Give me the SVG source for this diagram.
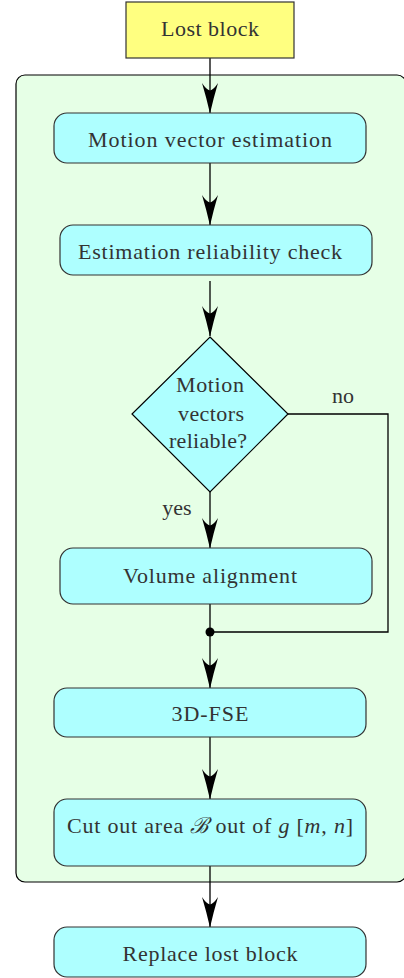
<svg xmlns="http://www.w3.org/2000/svg" width="404" height="978" viewBox="0 0 404 978">
<style>
text{font-family:"Liberation Serif","DejaVu Serif",serif;font-size:22px;fill:#333;text-anchor:middle}
.box{fill:#aeffff;stroke:#333;stroke-width:1.2}
.conn{fill:none;stroke:#000;stroke-width:1.3}
.it{font-style:italic}
</style>
<defs>
<marker id="ah" markerUnits="userSpaceOnUse" markerWidth="31" markerHeight="17" refX="30" refY="8.5" orient="auto" viewBox="0 0 31 17">
<path d="M30.5,8.5 Q15,5 0,0.5 Q7,5 7.5,8.5 Q7,12 0,16.5 Q15,12 30.5,8.5 Z" fill="#000"/>
</marker>
</defs>
<rect width="404" height="978" fill="#fff"/>
<g id="container"><rect x="16" y="75" width="390" height="807" rx="9" fill="#e6ffe6" stroke="#000" stroke-width="1.2"/></g>
<g id="connectors">
<line class="conn" x1="210" y1="58" x2="210" y2="113" marker-end="url(#ah)"/>
<line class="conn" x1="210" y1="163" x2="210" y2="225" marker-end="url(#ah)"/>
<line class="conn" x1="210" y1="281" x2="210" y2="336" marker-end="url(#ah)"/>
<line class="conn" x1="210" y1="492" x2="210" y2="548" marker-end="url(#ah)"/>
<polyline class="conn" points="288,414 388,414 388,632 210,632"/>
<line class="conn" x1="210" y1="604" x2="210" y2="632"/>
<circle cx="210" cy="632" r="4.5" fill="#000"/>
<line class="conn" x1="210" y1="632" x2="210" y2="688" marker-end="url(#ah)"/>
<line class="conn" x1="210" y1="737" x2="210" y2="799" marker-end="url(#ah)"/>
<line class="conn" x1="210" y1="866" x2="210" y2="927" marker-end="url(#ah)"/>
<text x="343" y="403">no</text>
<text x="177" y="515">yes</text>
</g>
<g id="lost"><rect x="126" y="2" width="168" height="56" fill="#ffff80" stroke="#333" stroke-width="1.2"/><text x="210" y="36" textLength="98">Lost block</text></g>
<g id="mve"><rect class="box" x="54" y="113" width="312" height="50" rx="13"/><text x="210" y="147" textLength="244">Motion vector estimation</text></g>
<g id="erc"><rect class="box" x="60" y="225" width="312" height="50" rx="13"/><text x="210" y="259" textLength="264">Estimation reliability check</text></g>
<g id="decision"><polygon points="210,337 288,414 210,492 132,414" fill="#aeffff" stroke="#000" stroke-width="1.2"/>
<text x="210" y="392" textLength="68">Motion</text><text x="211" y="421" textLength="66">vectors</text><text x="208" y="448" textLength="78">reliable?</text></g>
<g id="va"><rect class="box" x="60" y="548" width="312" height="56" rx="13"/><text x="210" y="583" textLength="174">Volume alignment</text></g>
<g id="fse"><rect class="box" x="54" y="688" width="312" height="49" rx="13"/><text x="210" y="721" textLength="77">3D-FSE</text></g>
<g id="cut"><rect class="box" x="54" y="799" width="312" height="67" rx="13"/><text x="210" y="833" textLength="286">Cut out area <tspan class="it">ℬ</tspan> out of <tspan class="it">g</tspan> [<tspan class="it">m</tspan>, <tspan class="it">n</tspan>]</text></g>
<g id="replace"><rect class="box" x="54" y="927" width="312" height="50" rx="13"/><text x="210" y="961" textLength="175">Replace lost block</text></g>
</svg>
